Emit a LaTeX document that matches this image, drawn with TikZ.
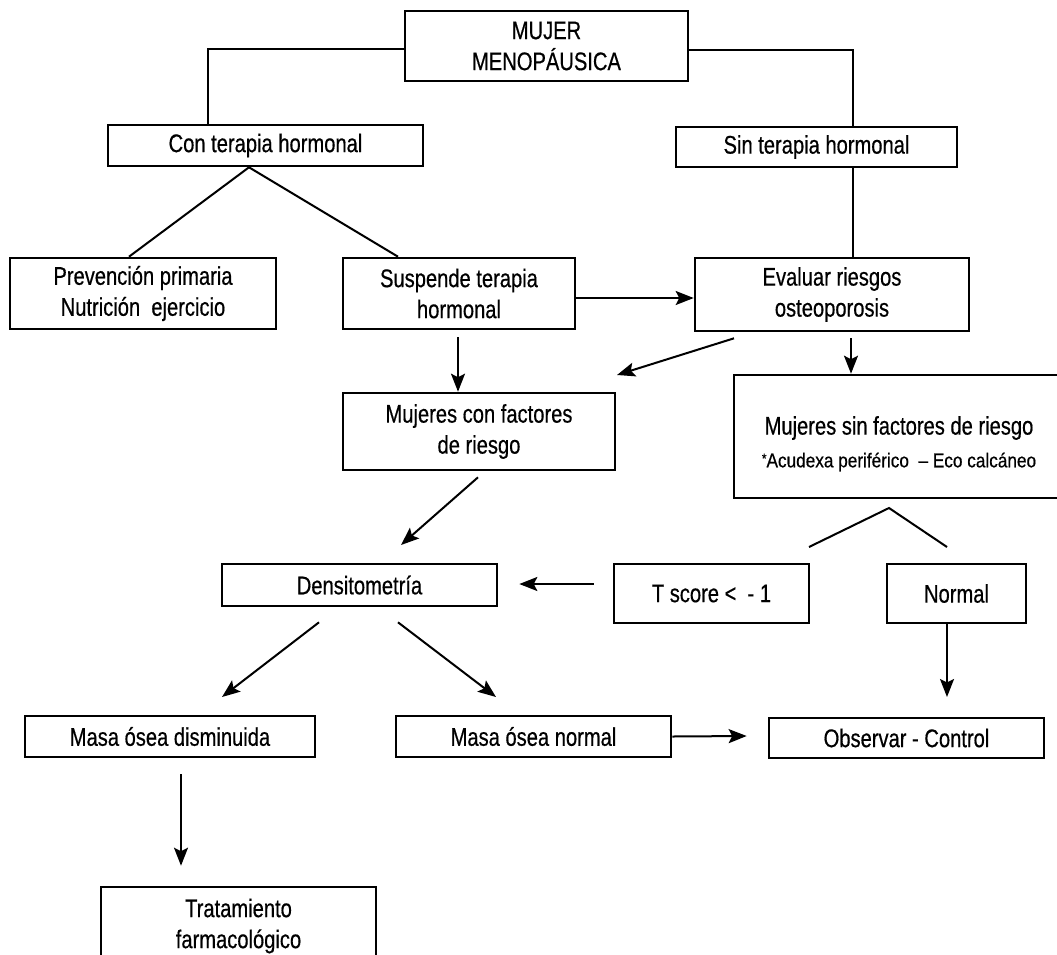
\documentclass[tikz,border=0pt]{standalone}
\usepackage{fontspec}
\setmainfont{Liberation Sans}[FakeStretch=0.79,FakeBold=0.5]
\newfontfamily\notefont{Liberation Sans}[FakeStretch=0.86,FakeBold=0.5]
\usetikzlibrary{arrows.meta}
\begin{document}
\begin{tikzpicture}[x=1pt,y=-1pt,
 box/.style={draw, line width=2.6pt, inner sep=0pt, align=center, font=\fontsize{25.5}{31}\selectfont},
 txt/.style={inner sep=0pt, align=center, font=\fontsize{25.5}{31}\selectfont},
 small/.style={inner sep=0pt, align=center, font=\notefont\fontsize{20}{22}\selectfont},
 conn/.style={line width=2pt},
 arr/.style={conn, -{Stealth[length=18pt,width=14pt,inset=3.5pt]}}]
\clip (0,0) rectangle (1057,954);
\fill[white] (0,0) rectangle (1057,954);
% boxes
\node[box, minimum width=283pt, minimum height=70pt] (mujer) at (546.5,46) {MUJER\\MENOPÁUSICA};
\node[box, minimum width=315pt, minimum height=41pt] (con) at (265.5,145.5) {Con terapia hormonal};
\node[box, minimum width=281pt, minimum height=40pt] (sin) at (816.5,147) {Sin terapia hormonal};
\node[box, minimum width=266pt, minimum height=71pt] (prev) at (143,293.5) {Prevención primaria\\Nutrición\ \ ejercicio};
\node[box, minimum width=232pt, minimum height=71pt] (susp) at (459,293.5) {Suspende terapia\\hormonal};
\node[box, minimum width=274pt, minimum height=73pt] (eval) at (832,294.5) {Evaluar riesgos\\osteoporosis};
\node[box, minimum width=272pt, minimum height=77pt] (mcon) at (479,431.5) {Mujeres con factores\\de riesgo};
\node[box, minimum width=346pt, minimum height=123pt] (msin) at (907,436.5) {};
\node[txt] (msintxt) at (899,428) {Mujeres sin factores de riesgo};
\node[small] (msinnote) at (899,462) {\raisebox{4pt}{\fontsize{14}{14}\selectfont *}Acudexa periférico\ \ – Eco calcáneo};
\node[box, minimum width=275pt, minimum height=42pt] (dens) at (359.5,585) {Densitometría};
\node[box, minimum width=195pt, minimum height=59pt] (tscore) at (711.5,593.5) {T score <\ \ - 1};
\node[box, minimum width=139pt, minimum height=59pt] (normal) at (956.5,593.5) {Normal};
\node[box, minimum width=290pt, minimum height=41pt] (mdis) at (170,736.5) {Masa ósea disminuida};
\node[box, minimum width=275pt, minimum height=41pt] (mnor) at (533.5,736.5) {Masa ósea normal};
\node[box, minimum width=275pt, minimum height=40pt] (obs) at (906.5,738) {Observar - Control};
\node[box, minimum width=275pt, minimum height=78pt] (trat) at (238.5,926) {Tratamiento\\farmacológico};
% free ends
\coordinate (evtip) at (617,375);
\coordinate (denstip) at (401,545);
\coordinate (vl) at (809,547);
\coordinate (vapex) at (889,508);
\coordinate (vr) at (947,547);
\coordinate (dlt) at (222,697);
\coordinate (drt) at (496,697);
\coordinate (nt) at (947,697);
% connectors
\draw[conn] ([yshift=-3pt]mujer.west) -| ([xshift=-57.5pt]con.north);
\draw[conn] ([yshift=-4pt]mujer.east) -| ([xshift=36.5pt]sin.north);
\draw[conn] ([xshift=-16.5pt]con.south) -- ([xshift=-14pt]prev.north);
\draw[conn] ([xshift=-16.5pt]con.south) -- ([xshift=-61pt]susp.north);
\draw[conn] ([xshift=36.5pt]sin.south) -- ([xshift=21pt]eval.north);
\draw[arr] ([yshift=-4.5pt]susp.east) -- ([yshift=-3.5pt]eval.west);
\draw[arr] ([xshift=-1pt,yshift=-7pt]susp.south) -- ([xshift=-21pt]mcon.north);
\draw[arr] ([xshift=-98pt,yshift=-6pt]eval.south) -- (evtip);
\draw[arr] ([xshift=19pt,yshift=-6pt]eval.south) -- ([xshift=-56pt]msin.north);
\draw[arr] ([xshift=-1pt,yshift=-6pt]mcon.south) -- (denstip);
\draw[conn] (vl) -- (vapex) -- (vr);
\draw[arr] ([xshift=-19pt,yshift=9.5pt]tscore.west) -- ([xshift=21pt,yshift=1pt]dens.east);
\draw[arr] ([xshift=-40.5pt,yshift=-15pt]dens.south) -- (dlt);
\draw[arr] ([xshift=38.5pt,yshift=-15pt]dens.south) -- (drt);
\draw[arr] ([xshift=-9.5pt]normal.south) -- (nt);
\draw[arr] (mnor.east) -- ([xshift=-21pt,yshift=2pt]obs.west);
\draw[arr] ([xshift=11pt,yshift=-16pt]mdis.south) -- ([xshift=-57.5pt,yshift=20pt]trat.north);
\end{tikzpicture}
\end{document}
